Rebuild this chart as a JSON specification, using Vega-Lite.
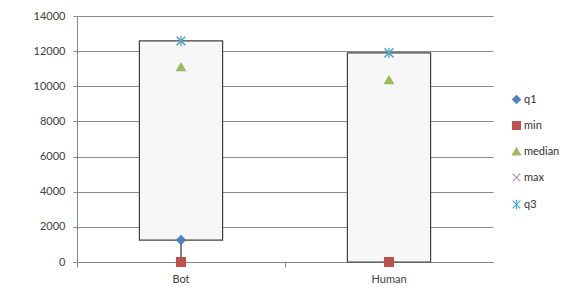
{
  "$schema": "https://vega.github.io/schema/vega-lite/v6.json",
  "width": 416,
  "height": 246,
  "autosize": {"type": "none"},
  "padding": {"left": 77, "top": 16, "right": 87, "bottom": 31},
  "background": "white",
  "config": {
    "font": "Lato",
    "view": {"stroke": null},
    "axis": {"labelFont": "Lato", "labelFontSize": 11, "labelColor": "#404040", "domainColor": "#868686", "tickColor": "#868686", "gridColor": "#8c8c8c", "title": null},
    "axisY": {"values": [0, 2000, 4000, 6000, 8000, 10000, 12000, 14000], "format": "d", "grid": true, "tickSize": 4, "labelPadding": 8, "labelOverlap": false},
    "axisX": {"labelAngle": 0, "bandPosition": 0, "grid": false, "ticks": true, "tickSize": 5, "labelPadding": 6}
  },
  "datasets": {
    "box": [
      {"cat": "Bot", "q1": 1250, "q3": 12580, "min": 0, "max": 12580},
      {"cat": "Human", "q1": 0, "q3": 11900, "min": 0, "max": 11900}
    ],
    "pts": [
      {"cat": "Bot", "stat": "q1", "value": 1250},
      {"cat": "Human", "stat": "q1", "value": 0},
      {"cat": "Bot", "stat": "min", "value": 0},
      {"cat": "Human", "stat": "min", "value": 0},
      {"cat": "Bot", "stat": "median", "value": 11100},
      {"cat": "Human", "stat": "median", "value": 10360},
      {"cat": "Bot", "stat": "max", "value": 12580},
      {"cat": "Human", "stat": "max", "value": 11900},
      {"cat": "Bot", "stat": "q3", "value": 12580},
      {"cat": "Human", "stat": "q3", "value": 11900}
    ]
  },
  "layer": [
    {
      "data": {"name": "box"},
      "mark": {"type": "rule", "color": "#000000", "strokeWidth": 1},
      "encoding": {
        "x": {"field": "cat", "type": "nominal", "scale": {"paddingInner": 0, "paddingOuter": 0}, "sort": null},
        "y": {"field": "min", "type": "quantitative", "scale": {"domain": [0, 14000], "nice": false}},
        "y2": {"field": "q1"}
      }
    },
    {
      "data": {"name": "box"},
      "mark": {"type": "bar", "fill": "#f7f7f7", "stroke": "#404040", "strokeWidth": 1.2, "width": {"band": 0.4}},
      "encoding": {
        "x": {"field": "cat", "type": "nominal", "sort": null},
        "y": {"field": "q1", "type": "quantitative"},
        "y2": {"field": "q3"}
      }
    },
    {
      "data": {"name": "pts"},
      "mark": {"type": "point", "filled": true, "strokeWidth": 1.3, "opacity": 1, "size": 75},
      "encoding": {
        "x": {"field": "cat", "type": "nominal", "sort": null},
        "y": {"field": "value", "type": "quantitative"},
        "color": {"field": "stat", "type": "nominal",
          "scale": {"domain": ["q1", "min", "median", "max", "q3"], "range": ["#4F81BD", "#C0504D", "#9BBB59", "#A99BC8", "#4BACC6"]},
          "legend": {"title": null, "orient": "none", "legendX": 434, "legendY": 78, "labelFont": "Lato", "labelFontSize": 11, "labelColor": "#303030", "rowPadding": 13, "symbolSize": 60, "labelOffset": 2, "symbolStrokeWidth": 1.3}},
        "stroke": {"field": "stat", "type": "nominal",
          "scale": {"domain": ["q1", "min", "median", "max", "q3"], "range": ["#4F81BD", "#C0504D", "#9BBB59", "#A99BC8", "#4BACC6"]}},
        "shape": {"field": "stat", "type": "nominal",
          "scale": {"domain": ["q1", "min", "median", "max", "q3"], "range": ["diamond", "square", "triangle-up", "M-1,-1L1,1M1,-1L-1,1", "M-1,-1L1,1M1,-1L-1,1M0,-1.2L0,1.2"]}}
      }
    }
  ]
}
